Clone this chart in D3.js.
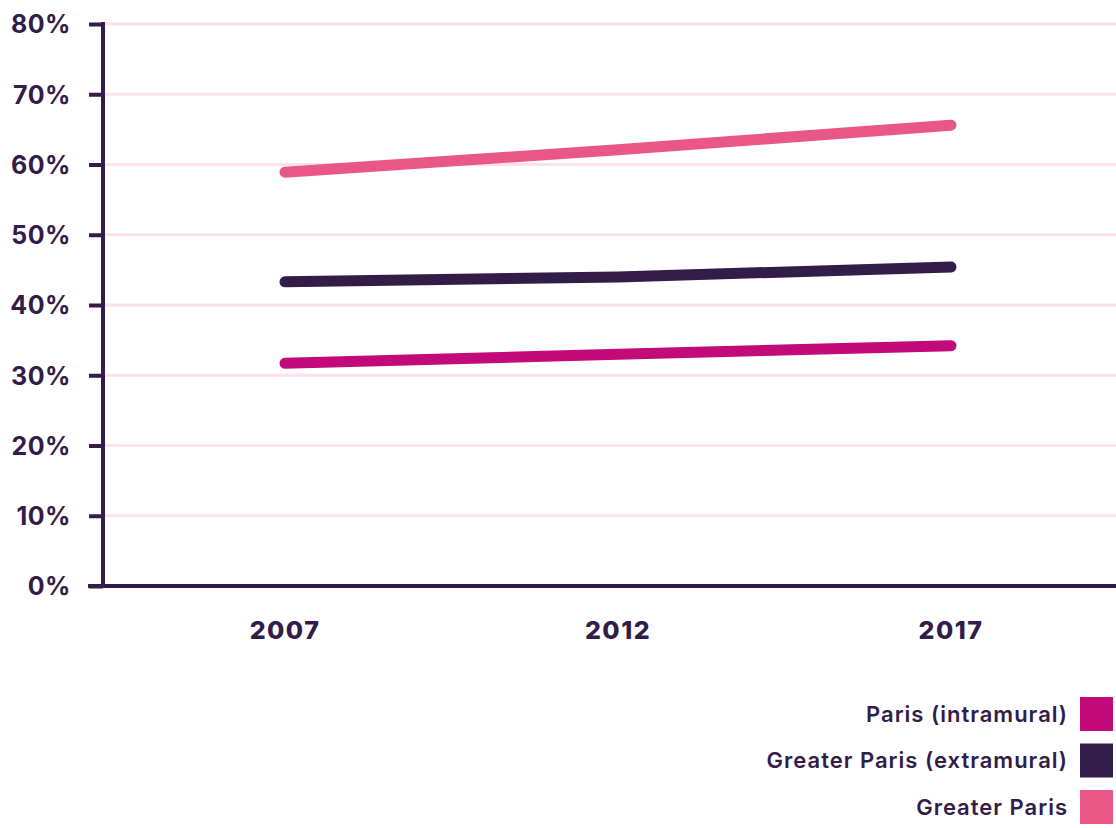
<!DOCTYPE html>
<html>
<head>
<meta charset="utf-8">
<script src="https://cdn.jsdelivr.net/npm/d3@7"></script>
<style>
  body { margin: 0; background: #fff; }
  text { font-family: Inter, "Noto Sans", sans-serif; fill: #321c48; }
</style>
</head>
<body>
<div class="main-container"></div>
<script>
var years = ["2007", "2012", "2017"];
var yTicks = [0, 10, 20, 30, 40, 50, 60, 70, 80];
var seriesNames = ["Paris (intramural)", "Greater Paris (extramural)", "Greater Paris"];
var seriesColors = ["#c20a78", "#321c48", "#e95786"];
var parisIntra = [31.7, 33.0, 34.2];
var parisExtra = [43.3, 44.0, 45.4];
var greaterParis = [58.9, 62.1, 65.6];
var allSeries = [parisIntra, parisExtra, greaterParis];

var svg = d3.select(".main-container")
    .append("svg")
    .attr("width", 1116)
    .attr("height", 828);

var x = d3.scalePoint().domain(years).range([285, 951]);
var y = d3.scaleLinear().domain([0, 80]).range([586, 24]);

// grid
svg.selectAll("line.grid")
    .data(yTicks.filter(function (d) { return d > 0; }))
    .enter()
    .append("line")
    .attr("class", "grid")
    .attr("x1", 105).attr("x2", 1116)
    .attr("y1", function (d) { return y(d); })
    .attr("y2", function (d) { return y(d); })
    .style("stroke", "#fbe1ea")
    .style("stroke-width", 3);

// y axis
var yAxis = svg.append("g")
    .attr("transform", "translate(103,0)")
    .call(d3.axisLeft(y).tickValues(yTicks).tickSize(14).tickPadding(18)
        .tickFormat(function (d) { return d + "%"; }));
yAxis.select(".domain").remove();
yAxis.selectAll(".tick line").style("stroke", "#321c48").style("stroke-width", 4);
yAxis.selectAll(".tick text")
    .style("font-size", "25px").style("font-weight", 700)
    .style("letter-spacing", "0.5px")
    .style("fill", "#321c48").attr("dy", "0.35em");
svg.append("line")
    .attr("x1", 103).attr("x2", 103).attr("y1", 22).attr("y2", 588)
    .style("stroke", "#321c48").style("stroke-width", 4);

// x axis
svg.append("line")
    .attr("x1", 88).attr("x2", 1116).attr("y1", 586).attr("y2", 586)
    .style("stroke", "#321c48").style("stroke-width", 4);
svg.selectAll("text.xlab")
    .data(years)
    .enter()
    .append("text")
    .attr("class", "xlab")
    .attr("x", function (d) { return x(d); })
    .attr("y", 639)
    .attr("text-anchor", "middle")
    .style("font-size", "25px").style("font-weight", 800)
    .style("letter-spacing", "1.5px")
    .text(function (d) { return d; });

// lines
var line = d3.line()
    .x(function (d, i) { return x(years[i]); })
    .y(function (d) { return y(d); })
    .curve(d3.curveMonotoneX);
svg.selectAll("path.series")
    .data(allSeries)
    .enter()
    .append("path")
    .attr("class", "series")
    .attr("d", line)
    .style("fill", "none")
    .style("stroke", function (d, i) { return seriesColors[i]; })
    .style("stroke-width", 11)
    .style("stroke-linecap", "round");

// legend
var legend = svg.selectAll("g.legend")
    .data(seriesNames)
    .enter()
    .append("g")
    .attr("class", "legend")
    .attr("transform", function (d, i) { return "translate(0," + (697 + i * 46.5) + ")"; });
legend.append("rect")
    .attr("x", 1080).attr("y", 0).attr("width", 33).attr("height", 34)
    .style("fill", function (d, i) { return seriesColors[i]; });
legend.append("text")
    .attr("x", 1068).attr("y", 17).attr("dy", "0.35em")
    .attr("text-anchor", "end")
    .style("font-size", "22px").style("font-weight", 600)
    .style("letter-spacing", "1px")
    .text(function (d) { return d; });
</script>
</body>
</html>
